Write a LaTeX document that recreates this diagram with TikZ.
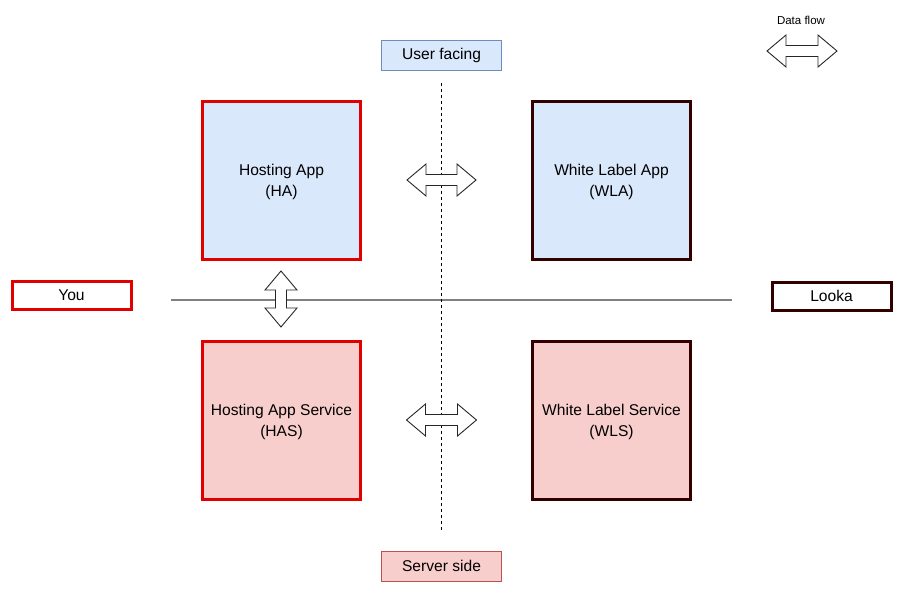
\documentclass[tikz,border=0pt]{standalone}
\usepackage{fontspec}
\setmainfont{Liberation Sans}
\definecolor{redb}{HTML}{E00000}
\definecolor{darkb}{HTML}{330000}
\definecolor{bluef}{HTML}{DAE8FC}
\definecolor{blueb}{HTML}{6C8EBF}
\definecolor{redf}{HTML}{F8CECC}
\definecolor{redl}{HTML}{B85450}
\tikzset{
  big/.style={draw, line width=3pt, minimum width=158pt, minimum height=158pt, align=center, text depth=0pt, font=\fontsize{15.6}{20.5}\selectfont},
  actor/.style={draw, fill=white, line width=3pt, minimum width=119pt, minimum height=28pt, font=\fontsize{15.6}{19}\selectfont},
  tag/.style={draw, line width=1pt, minimum width=120pt, minimum height=30pt, font=\fontsize{15.6}{19}\selectfont},
  arrowsty/.style={draw=black!85, fill=white, line width=0.9pt, line join=miter},
  dbl/.pic={\draw[arrowsty] (-#1,0) -- (-#1+19,16) -- (-#1+19,5.5) -- (#1-19,5.5) -- (#1-19,16) -- (#1,0) -- (#1-19,-16) -- (#1-19,-5.5) -- (-#1+19,-5.5) -- (-#1+19,-16) -- cycle;}
}
\begin{document}
\begin{tikzpicture}[x=1pt,y=-1pt]
\useasboundingbox (0,0) rectangle (903,591);
% axes
\coordinate (hl) at (171,300);
\coordinate (hr) at (732,300);
\coordinate (vt) at (441,83);
\coordinate (vb) at (441,531);
\draw[line width=1.5pt, draw=black!50] (hl) -- (hr);
\draw[line width=1pt, dash pattern=on 3pt off 3pt] (vt) -- (vb);
% boxes
\node[big, draw=redb, fill=bluef] (ha) at (281.5,180.5) {Hosting App\\(HA)};
\node[big, draw=darkb, fill=bluef] (wla) at (611.5,180.5) {White Label App\\(WLA)};
\node[big, draw=redb, fill=redf] (has) at (281.5,420.5) {Hosting App Service\\(HAS)};
\node[big, draw=darkb, fill=redf] (wls) at (611.5,420.5) {White Label Service\\(WLS)};
\node[actor, draw=redb] (you) at (71.5,295.5) {You};
\node[actor, draw=darkb] (looka) at (831.5,296) {Looka};
\node[tag, draw=blueb, fill=bluef] (uf) at (441.5,55.5) {User facing};
\node[tag, draw=redl, fill=redf] (ss) at (441.5,566) {Server side};
% data flow arrows
\pic at (441.5,180) {dbl=34.5};
\pic at (441.5,420) {dbl=35};
\pic[rotate=90] at (281,299) {dbl=28};
% legend
\node[font=\fontsize{11.5}{14}\selectfont] (lg) at (801,20) {Data flow};
\pic at (802,51) {dbl=35};
\end{tikzpicture}
\end{document}
